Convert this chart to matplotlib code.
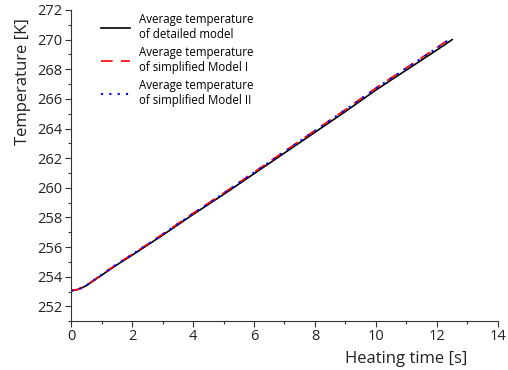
import numpy as np
import matplotlib
matplotlib.use("Agg")
import matplotlib.pyplot as plt
from matplotlib.ticker import MultipleLocator

# heating time [s]
time_s = [0.0, 0.25, 0.5, 0.75, 1.0, 1.5, 2.0, 3.0, 4.0, 5.0, 6.0,
          7.0, 8.0, 9.0, 10.0, 11.0, 12.0, 12.5]

# average temperature [K]
temp_detailed = [253.05, 253.15, 253.40, 253.75, 254.10, 254.80, 255.45, 256.80,
                 258.20, 259.55, 260.95, 262.35, 263.75, 265.15, 266.60, 267.95,
                 269.30, 270.00]
temp_model_1 = [253.05, 253.16, 253.42, 253.78, 254.14, 254.85, 255.51, 256.87,
                258.28, 259.64, 261.05, 262.46, 263.87, 265.28, 266.74, 268.10,
                269.46, 270.17]
temp_model_2 = [253.05, 253.16, 253.41, 253.77, 254.13, 254.84, 255.50, 256.85,
                258.26, 259.62, 261.03, 262.44, 263.85, 265.26, 266.71, 268.07,
                269.43, 270.13]

labels = ["Average temperature\nof detailed model",
          "Average temperature\nof simplified Model I",
          "Average temperature\nof simplified Model II"]

plt.rcParams['font.family'] = ['Open Sans', 'DejaVu Sans']

fig = plt.figure(figsize=(5.08, 3.70), dpi=100)
ax = fig.add_axes([0.140, 0.132, 0.840, 0.841])

ax.plot(time_s, temp_detailed, color='black', lw=1.2, label=labels[0])
ax.plot(time_s, temp_model_1, color='red', lw=1.2, ls=(0, (7, 5)), label=labels[1])
ax.plot(time_s, temp_model_2, color='blue', lw=1.5, ls=(0, (1, 3)), label=labels[2])

ax.set_xlim(0, 14)
ax.set_ylim(251, 272)
ax.xaxis.set_major_locator(MultipleLocator(2))
ax.xaxis.set_minor_locator(MultipleLocator(1))
ax.yaxis.set_major_locator(MultipleLocator(2))
ax.yaxis.set_minor_locator(MultipleLocator(1))

for side in ['top', 'right']:
    ax.spines[side].set_visible(False)
for side in ['left', 'bottom']:
    ax.spines[side].set_color('#333333')
    ax.spines[side].set_linewidth(0.8)

ax.tick_params(which='major', direction='out', length=4, width=0.8,
               labelsize=10.5, colors='#333333', labelcolor='#222222', pad=2)
ax.tick_params(which='minor', direction='out', length=2.5, width=0.8, colors='#333333')

ax.set_xlabel('Heating time [s]', fontsize=12, color='#222222')
ax.xaxis.set_label_coords(0.785, -0.095)
ax.set_ylabel('Temperature [K]', fontsize=12, color='#222222')
ax.yaxis.set_label_coords(-0.095, 0.77)

ax.legend(loc='upper left', bbox_to_anchor=(0.045, 1.025), frameon=False,
          fontsize=8.3, handlelength=2.5, handletextpad=0.8, labelspacing=0.45)

fig.savefig('out.png', dpi=100)
